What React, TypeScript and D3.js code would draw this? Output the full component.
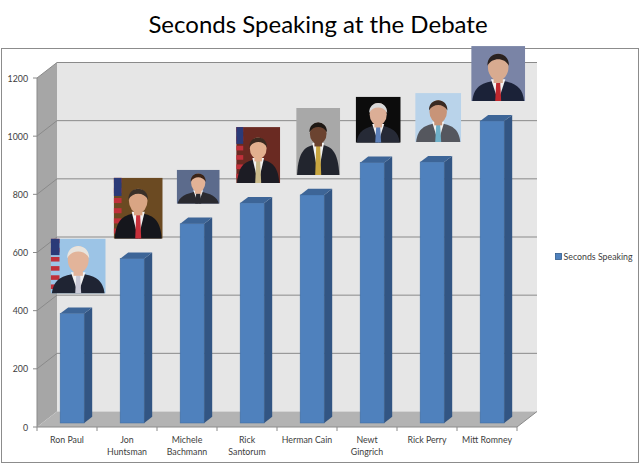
import { useMemo } from 'react';
import * as d3 from 'd3';

// Seconds of speaking time per candidate
const CANDIDATES = [
  'Ron Paul',
  'Jon Huntsman',
  'Michele Bachmann',
  'Rick Santorum',
  'Herman Cain',
  'Newt Gingrich',
  'Rick Perry',
  'Mitt Romney',
];
const LABEL_LINES = [
  ['Ron Paul'],
  ['Jon', 'Huntsman'],
  ['Michele', 'Bachmann'],
  ['Rick', 'Santorum'],
  ['Herman Cain'],
  ['Newt', 'Gingrich'],
  ['Rick Perry'],
  ['Mitt Romney'],
];
const SECONDS = [376, 565, 685, 756, 784, 895, 897, 1038];
const Y_TICKS = [0, 200, 400, 600, 800, 1000, 1200];
const SERIES_NAME = 'Seconds Speaking';
const TITLE = 'Seconds Speaking at the Debate';

// little stand-ins for the headshots above each bar
const PORTRAITS = [
  { w: 55, h: 55, bg: '#9cc4e6', skin: '#e2b49a', hair: '#e8e4de', suit: '#1f2433', tie: '#c9c9d6', flag: true },
  { w: 49, h: 61, bg: '#6b4a22', skin: '#d9a584', hair: '#3a3028', suit: '#15161c', tie: '#c8303a', flag: true },
  { w: 43, h: 34, bg: '#5c6b8c', skin: '#e3b296', hair: '#3b2418', suit: '#2a2a30', tie: '#2a2a30', flag: false },
  { w: 44, h: 56, bg: '#6a2a22', skin: '#e2b08f', hair: '#3b2a20', suit: '#1c1c24', tie: '#c9b98a', flag: true },
  { w: 44, h: 67, bg: '#a8a8a8', skin: '#6b4330', hair: '#1e1814', suit: '#22252e', tie: '#c8a640', flag: false },
  { w: 45, h: 46, bg: '#0c0c0c', skin: '#dcae96', hair: '#d8d8d8', suit: '#262a36', tie: '#5c7fb8', flag: false },
  { w: 46, h: 49, bg: '#b9d3ea', skin: '#c89478', hair: '#3a2a22', suit: '#55575e', tie: '#6fb0c8', flag: false },
  { w: 54, h: 55, bg: '#7a84a6', skin: '#d8ab90', hair: '#2a2220', suit: '#1b2238', tie: '#c0282e', flag: false },
];

const DX = 20; // depth offset of the back wall
const DY = -15.5;
const T0 = 0.26; // bar front depth
const T1 = 0.66; // bar back depth
const FONT = 'Lato, "Open Sans", sans-serif';
const SMALL = 8.8;

function Portrait({ x, y, p, id }: { x: number; y: number; p: (typeof PORTRAITS)[number]; id: string }) {
  const { w, h } = p;
  const cx = w / 2;
  const headRx = Math.min(w, h * 1.1) * 0.19;
  const headRy = headRx * 1.3;
  const headCy = h * 0.38;
  const shoulderY = headCy + headRy * 1.15;
  return (
    <g transform={`translate(${x},${y})`}>
      <clipPath id={id}>
        <rect width={w} height={h} />
      </clipPath>
      <g clipPath={`url(#${id})`}>
        <rect width={w} height={h} fill={p.bg} />
        {p.flag && (
          <g>
            {d3.range(6).map((i) => (
              <rect key={i} x={0} y={i * (h / 6)} width={w * 0.16} height={h / 12} fill="#c0303a" />
            ))}
            <rect x={0} y={0} width={w * 0.16} height={h * 0.3} fill="#2b3a78" />
          </g>
        )}
        <path
          d={`M${w * 0.02},${h} C${w * 0.05},${shoulderY + 4} ${w * 0.2},${shoulderY} ${cx},${shoulderY - 2} C${w * 0.8},${shoulderY} ${w * 0.95},${shoulderY + 4} ${w * 0.98},${h} Z`}
          fill={p.suit}
        />
        <path d={`M${cx - headRx * 0.7},${shoulderY - 3} L${cx},${h} L${cx + headRx * 0.7},${shoulderY - 3} Z`} fill="#f2f2f2" />
        <path d={`M${cx - 2},${shoulderY} L${cx + 2},${shoulderY} L${cx + 3},${h} L${cx - 3},${h} Z`} fill={p.tie} />
        <rect x={cx - headRx * 0.45} y={headCy + headRy * 0.6} width={headRx * 0.9} height={headRy * 0.6} fill={p.skin} />
        <ellipse cx={cx} cy={headCy} rx={headRx} ry={headRy} fill={p.skin} />
        <path
          d={`M${cx - headRx * 1.05},${headCy - headRy * 0.1} C${cx - headRx * 1.1},${headCy - headRy * 1.3} ${cx + headRx * 1.1},${headCy - headRy * 1.3} ${cx + headRx * 1.05},${headCy - headRy * 0.1} C${cx + headRx * 0.6},${headCy - headRy * 0.75} ${cx - headRx * 0.6},${headCy - headRy * 0.75} ${cx - headRx * 1.05},${headCy - headRy * 0.1} Z`}
          fill={p.hair}
        />
      </g>
    </g>
  );
}

export default function App() {
  const x = useMemo(
    () => d3.scaleBand<string>().domain(CANDIDATES).range([37, 517]).paddingInner(0.6).paddingOuter(0.3),
    []
  );
  const y = useMemo(() => d3.scaleLinear().domain([0, 1200]).range([427, 78]), []);

  const x0 = 37;
  const x1 = 517;
  const step = x.step();
  const bw = x.bandwidth();
  const depth = T1 - T0;

  return (
    <svg width={640} height={464} style={{ position: 'absolute', left: 0, top: 0, background: '#fff' }}>
      <text x={318} y={33} textAnchor="middle" fontFamily={FONT} fontSize={24} fill="#000">
        {TITLE}
      </text>
      <rect x={1.5} y={48.5} width={637} height={414} fill="none" stroke="#8c8c8c" strokeWidth={1} />

      {/* walls and floor */}
      <rect x={x0 + DX} y={y(1200) + DY} width={x1 - x0} height={y(0) - y(1200)} fill="#e6e6e6" />
      <path
        d={`M${x0},${y(1200)} L${x0 + DX},${y(1200) + DY} L${x0 + DX},${y(0) + DY} L${x0},${y(0)} Z`}
        fill="#a6a6a6"
      />
      <path
        d={`M${x0},${y(0)} L${x0 + DX},${y(0) + DY} L${x1 + DX},${y(0) + DY} L${x1},${y(0)} Z`}
        fill="#b3b3b3"
      />
      {Y_TICKS.filter((t) => t > 0).map((t) => (
        <g key={t} stroke="#8a8a8a" strokeWidth={1}>
          <line x1={x0 + DX} x2={x1 + DX} y1={y(t) + DY} y2={y(t) + DY} />
          <line x1={x0} x2={x0 + DX} y1={y(t)} y2={y(t) + DY} />
        </g>
      ))}

      {/* axes */}
      <g stroke="#8a8a8a" strokeWidth={1} fill="none">
        <line x1={x0} x2={x0} y1={y(1200)} y2={y(0)} />
        <line x1={x0} x2={x1} y1={y(0)} y2={y(0)} />
        <line x1={x1} x2={x1 + DX} y1={y(0)} y2={y(0) + DY} />
        {Y_TICKS.map((t) => (
          <line key={t} x1={x0 - 4} x2={x0} y1={y(t)} y2={y(t)} />
        ))}
        {d3.range(CANDIDATES.length + 1).map((i) => (
          <line key={i} x1={x0 + i * step} x2={x0 + i * step} y1={y(0)} y2={y(0) + 4} />
        ))}
      </g>
      {Y_TICKS.map((t) => (
        <text key={t} x={28} y={y(t) + 3.5} textAnchor="end" fontFamily={FONT} fontSize={SMALL} fill="#404040">
          {t}
        </text>
      ))}
      {CANDIDATES.map((c, i) =>
        LABEL_LINES[i].map((ln, j) => (
          <text
            key={`${c}-${j}`}
            x={(x(c) ?? 0) + bw / 2}
            y={443 + j * 11.5}
            textAnchor="middle"
            fontFamily={FONT}
            fontSize={SMALL}
            fill="#404040"
          >
            {ln}
          </text>
        ))
      )}

      {/* bars */}
      {CANDIDATES.map((c, i) => {
        const bx = (x(c) ?? 0) + T0 * DX;
        const top = y(SECONDS[i]) + T0 * DY;
        const bot = y(0) + T0 * DY;
        const ddx = depth * DX;
        const ddy = depth * DY;
        return (
          <g key={c}>
            <rect x={bx} y={top} width={bw} height={bot - top} fill="#4f81bd" stroke="#3f6ea6" strokeWidth={0.6} />
            <path
              d={`M${bx + bw},${top} L${bx + bw + ddx},${top + ddy} L${bx + bw + ddx},${bot + ddy} L${bx + bw},${bot} Z`}
              fill="#325583"
            />
            <path
              d={`M${bx},${top} L${bx + ddx},${top + ddy} L${bx + bw + ddx},${top + ddy} L${bx + bw},${top} Z`}
              fill="#3d6597"
            />
          </g>
        );
      })}

      {/* headshots */}
      {CANDIDATES.map((c, i) => {
        const p = PORTRAITS[i];
        const cx = (x(c) ?? 0) + T0 * DX + bw / 2 + 6;
        const bottom = y(SECONDS[i]) + T0 * DY - 20;
        return <Portrait key={c} id={`clip${i}`} x={cx - p.w / 2} y={bottom - p.h} p={p} />;
      })}

      {/* legend */}
      <rect x={555.5} y={253.5} width={6} height={6} fill="#4f81bd" stroke="#2f5a8c" strokeWidth={0.8} />
      <text x={563.5} y={259.5} fontFamily={FONT} fontSize={SMALL} fill="#404040">
        {SERIES_NAME}
      </text>
    </svg>
  );
}
